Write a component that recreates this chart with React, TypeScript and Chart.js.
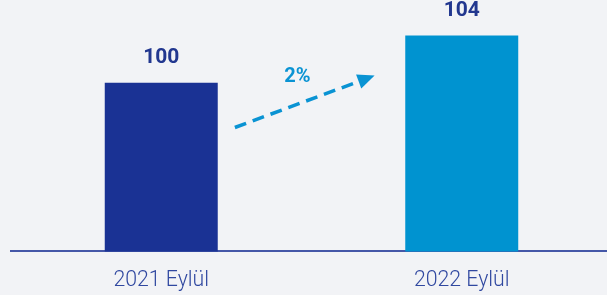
import React, { useEffect, useRef } from "react";
import { Chart, registerables } from "chart.js";

Chart.register(...registerables);

const categories = ["2021 Eylül", "2022 Eylül"];
const values = [100, 104];
const barColors = ["#1a3294", "#0093d0"];
const growthLabel = "2%";
// arrow annotation in data space: [category index, value]
const arrowFrom = [0.245, 96.2];
const arrowTo = [0.71, 100.6];
const growthLabelAt = [0.453, 100.5];
const yMin = 85.7;
const yMax = 107;

const overlayPlugin = {
  id: "overlay",
  afterDatasetsDraw(chart: any) {
    const ctx = chart.ctx;
    const xs = chart.scales.x;
    const ys = chart.scales.y;
    const meta = chart.getDatasetMeta(0);
    ctx.save();
    // value labels
    ctx.font = "bold 21px Roboto";
    ctx.fillStyle = "#22378f";
    ctx.textAlign = "center";
    ctx.textBaseline = "middle";
    meta.data.forEach((bar: any, i: number) => {
      ctx.fillText(String(values[i]), bar.x, bar.y - 24.5);
    });
    // arrow
    const x1 = xs.getPixelForValue(arrowFrom[0]);
    const y1 = ys.getPixelForValue(arrowFrom[1]);
    const x2 = xs.getPixelForValue(arrowTo[0]);
    const y2 = ys.getPixelForValue(arrowTo[1]);
    const ang = Math.atan2(y2 - y1, x2 - x1);
    const headLen = 17;
    const headHalf = 7.5;
    const bx = x2 - headLen * Math.cos(ang);
    const by = y2 - headLen * Math.sin(ang);
    ctx.strokeStyle = "#0a93d3";
    ctx.lineWidth = 3.5;
    ctx.setLineDash([12, 7]);
    ctx.beginPath();
    ctx.moveTo(x1, y1);
    ctx.lineTo(bx, by);
    ctx.stroke();
    ctx.setLineDash([]);
    ctx.fillStyle = "#0a93d3";
    ctx.beginPath();
    ctx.moveTo(x2, y2);
    ctx.lineTo(bx + headHalf * Math.sin(ang), by - headHalf * Math.cos(ang));
    ctx.lineTo(bx - headHalf * Math.sin(ang), by + headHalf * Math.cos(ang));
    ctx.closePath();
    ctx.fill();
    // growth label
    ctx.font = "bold 20px Roboto";
    ctx.fillStyle = "#0a93d3";
    ctx.fillText(
      growthLabel,
      xs.getPixelForValue(growthLabelAt[0]),
      ys.getPixelForValue(growthLabelAt[1])
    );
    ctx.restore();
  },
};

export default function App() {
  const ref = useRef<HTMLCanvasElement>(null);
  useEffect(() => {
    if (!ref.current) return;
    const chart = new Chart(ref.current, {
      type: "bar",
      data: {
        labels: categories,
        datasets: [
          {
            data: values,
            backgroundColor: barColors,
            borderWidth: 0,
            categoryPercentage: 1,
            barPercentage: 0.376,
          },
        ],
      },
      options: {
        animation: false,
        responsive: false,
        maintainAspectRatio: false,
        layout: { padding: { left: 11, right: 2, top: 0, bottom: 7 } },
        plugins: { legend: { display: false }, tooltip: { enabled: false } },
        scales: {
          x: {
            grid: { display: false, drawTicks: false },
            border: { display: true, color: "#4557a8", width: 2 },
            ticks: {
              padding: 16,
              color: "#3048a0",
              font: { family: "Roboto", size: 21.3, weight: "300" as any },
            },
          },
          y: {
            display: false,
            min: yMin,
            max: yMax,
          },
        },
      },
      plugins: [overlayPlugin],
    });
    return () => chart.destroy();
  }, []);
  return (
    <div
      style={{
        position: "fixed",
        left: 0,
        top: 0,
        width: 607,
        height: 295,
        overflow: "hidden",
        background: "#f2f3f6",
      }}
    >
      <canvas ref={ref} width={614} height={316} style={{ display: "block" }} />
    </div>
  );
}
